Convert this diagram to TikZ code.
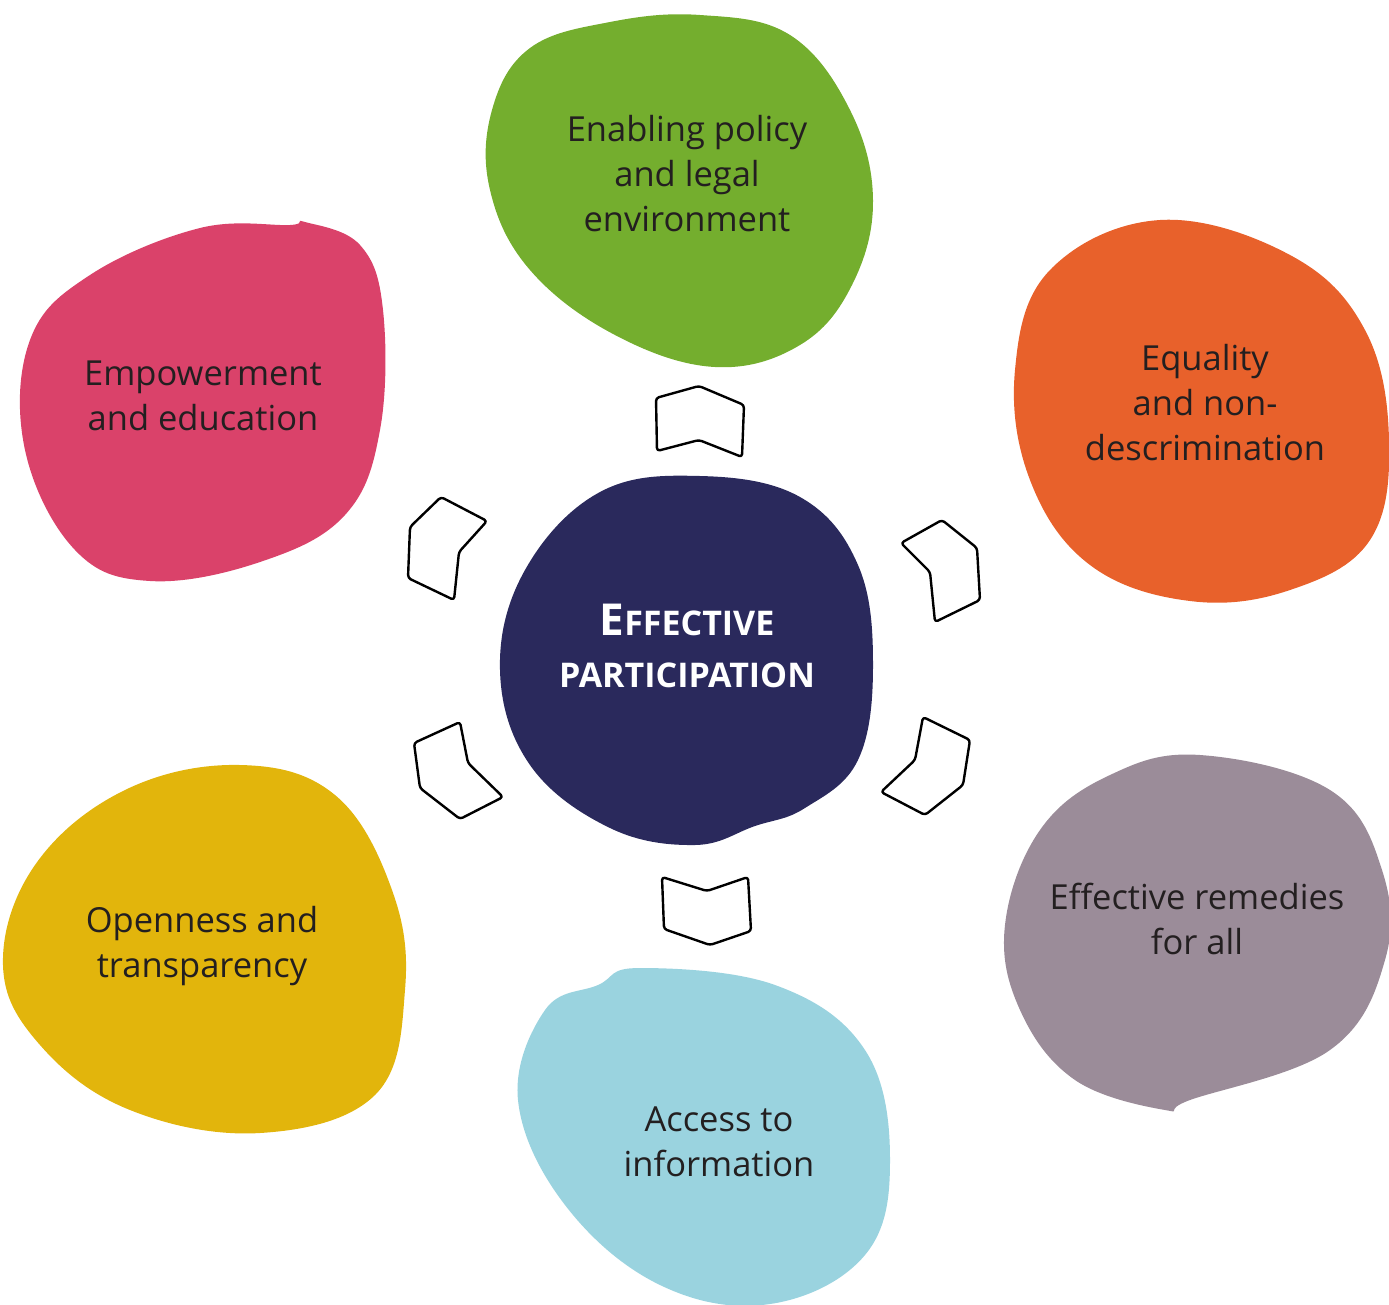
\documentclass[tikz,border=0pt]{standalone}
\usepackage{fontspec}
\setmainfont{Open Sans}
\definecolor{cgreen}{HTML}{74AE2E}
\definecolor{corange}{HTML}{E8612B}
\definecolor{cpink}{HTML}{DA426A}
\definecolor{cnavy}{HTML}{2A295C}
\definecolor{cyellow}{HTML}{E2B50C}
\definecolor{cblue}{HTML}{9AD3DF}
\definecolor{cgray}{HTML}{9B8C99}
\definecolor{ctext}{HTML}{231F20}
\begin{document}
\begin{tikzpicture}[x=1pt,y=-1pt,
  chev/.style={draw=black,line width=2.4pt,fill=white,rounded corners=3pt,line join=round},
  lbl/.style={align=center,text=ctext,font=\fontsize{34.5}{45}\selectfont,inner sep=0pt}]
\useasboundingbox (0,0) rectangle (1389,1304);
% blobs
\fill[cgreen] plot[smooth cycle,tension=0.65] coordinates {(530,48) (610,22) (700,15) (790,35) (850,110) (873,200) (852,285) (800,345) (715,367) (615,335) (530,270) (490,190) (492,110)};
\fill[corange] plot[smooth cycle,tension=0.65] coordinates {(1160,220) (1290,255) (1365,330) (1389,440) (1370,540) (1290,590) (1190,601) (1090,565) (1030,480) (1015,370) (1050,270)};
\fill[cpink] plot[smooth cycle,tension=0.65] coordinates {(305,222) (360,245) (383,310) (380,430) (345,515) (260,562) (150,581) (75,550) (25,450) (30,340) (90,275) (200,228) (290,225)};
\fill[cnavy] plot[smooth cycle,tension=0.65] coordinates {(700,476) (800,497) (858,565) (873,665) (858,760) (805,808) (755,826) (695,845) (610,828) (530,765) (500,670) (525,570) (600,492)};
\fill[cyellow] plot[smooth cycle,tension=0.65] coordinates {(240,765) (335,795) (392,890) (405,990) (375,1095) (260,1133) (130,1110) (40,1045) (3,965) (35,865) (125,790)};
\fill[cblue] plot[smooth cycle,tension=0.65] coordinates {(640,968) (775,985) (865,1050) (890,1160) (865,1255) (770,1304) (660,1285) (565,1205) (518,1100) (545,1010) (598,985)};
\fill[cgray] plot[smooth cycle,tension=0.65] coordinates {(1200,755) (1330,790) (1382,870) (1385,960) (1330,1050) (1190,1100) (1165,1110) (1075,1080) (1020,1010) (1005,925) (1040,830) (1110,775)};
% chevrons
\draw[chev] (656,398) -- (699,386) -- (744,405) -- (742,457) -- (699,440) -- (657,451) -- cycle;
\draw[chev] (662,877) -- (707,891) -- (748,877) -- (751,931) -- (710,945) -- (664,929) -- cycle;
\draw[chev] (441,497) -- (487,521) -- (459,552) -- (454,600) -- (408,578) -- (410,527) -- cycle;
\draw[chev] (901,543) -- (942,520) -- (977,548) -- (980,600) -- (935,622) -- (930,572) -- cycle;
\draw[chev] (414,743) -- (460,722) -- (468,763) -- (503,797) -- (460,819) -- (420,788) -- cycle;
\draw[chev] (923,717) -- (970,740) -- (963,785) -- (925,815) -- (881,792) -- (915,760) -- cycle;
% labels
\node[lbl] (tgreen) at (687,174) {Enabling policy\\and legal\\environment};
\node[lbl] (torange) at (1205,403) {Equality\\and non-\\descrimination};
\node[lbl] (tpink) at (203,396) {Empowerment\\and education};
\node[lbl] (tyellow) at (202,946) {Openness and\\transparency};
\node[lbl] (tblue) at (719,1142) {Access to\\information};
\node[lbl] (tgray) at (1197,919) {Effective remedies\\for all};
\node[lbl,text=white,font=\bfseries\fontsize{34}{52}\selectfont] (tcenter) at (687,646) {{\fontsize{44}{52}\selectfont E}FFECTIVE\\PARTICIPATION};
\end{tikzpicture}
\end{document}
